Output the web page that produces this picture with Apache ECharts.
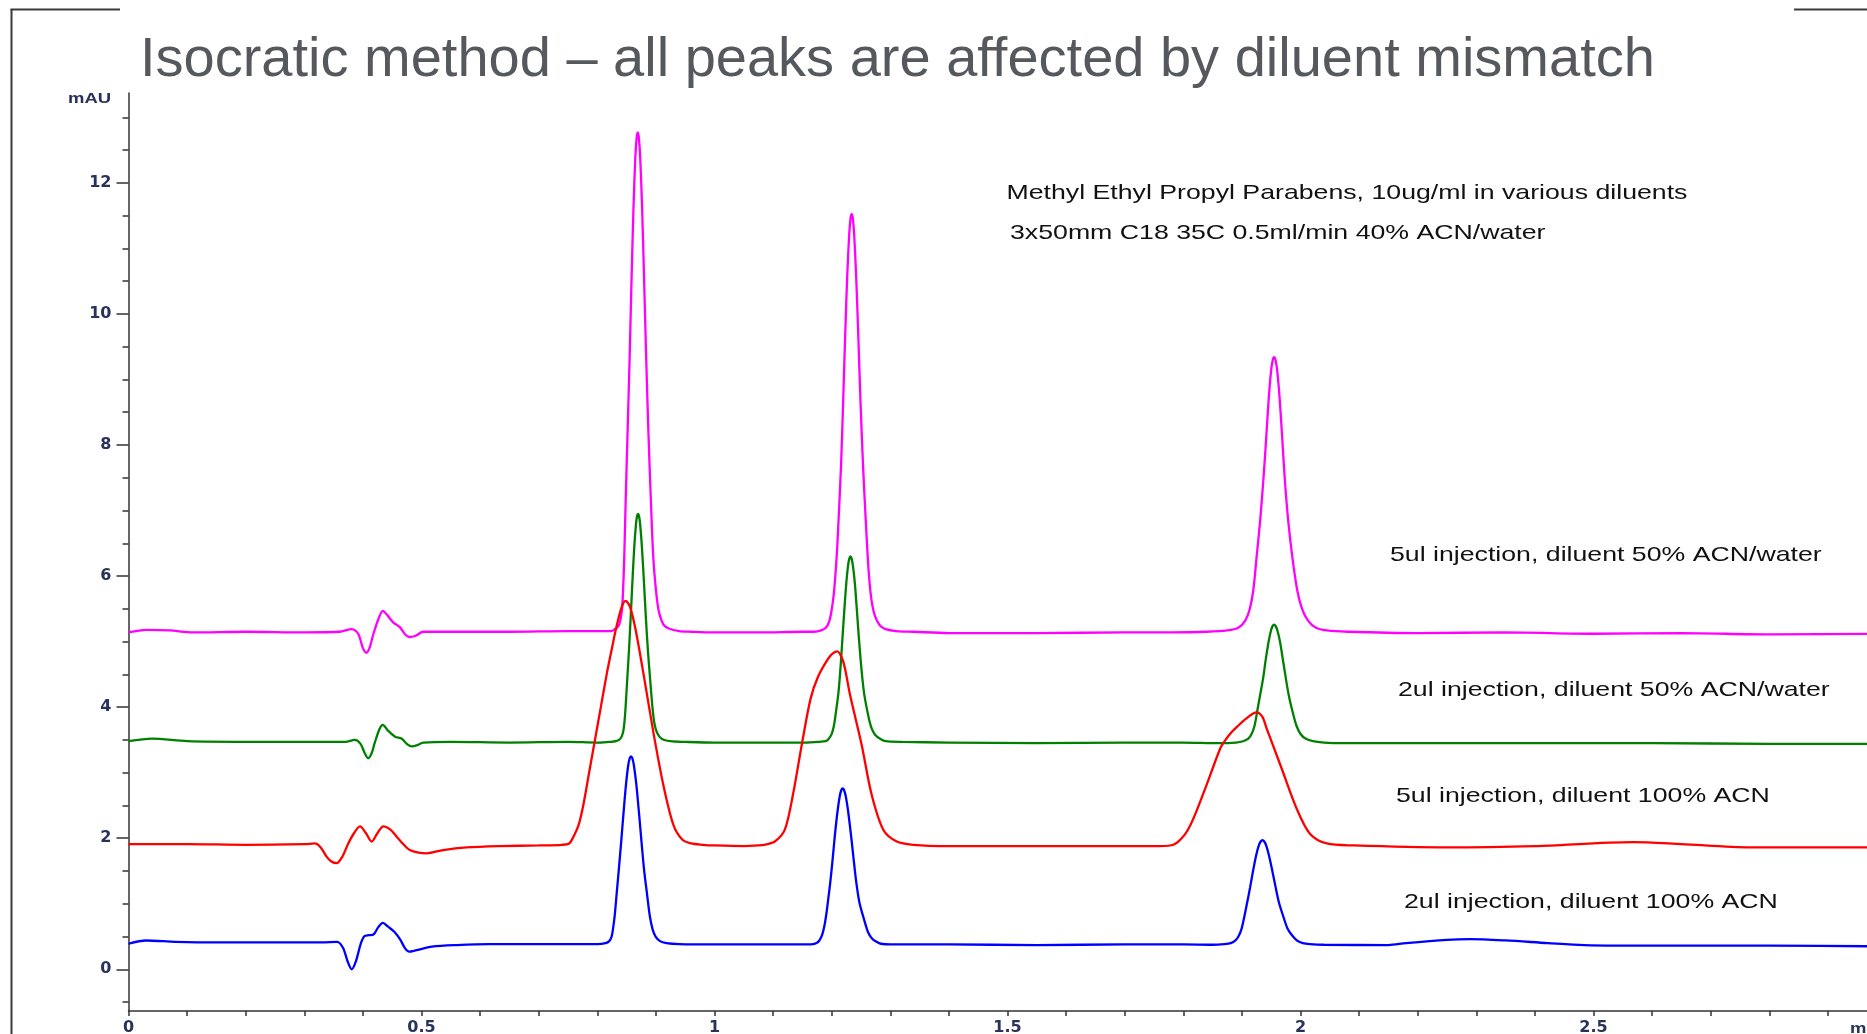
<!DOCTYPE html>
<html>
<head>
<meta charset="utf-8">
<title>Isocratic method – diluent mismatch</title>
<script src="https://cdn.jsdelivr.net/npm/echarts@6/dist/echarts.min.js"></script>
<style>
  html, body { margin: 0; padding: 0; background: #ffffff; }
  #chart { width: 1867px; height: 1034px; }
</style>
</head>
<body>
<div id="chart"></div>
<script>
// Chromatogram traces: [retention time (min), absorbance (mAU)]
const trace5ulWater = [
  [0,5.14],[0.03,5.18],[0.07,5.17],[0.11,5.14],[0.2,5.15],[0.3,5.14],[0.36,5.15],[0.381,5.19],[0.392,5.12],[0.4,4.9],[0.406,4.83],[0.412,4.92],[0.418,5.12],[0.428,5.38],[0.434,5.47],[0.442,5.40],[0.452,5.29],[0.463,5.22],[0.473,5.10],[0.480,5.07],[0.490,5.09],[0.503,5.15],[0.55,5.15],[0.65,5.15],[0.75,5.16],[0.81,5.16],
  [0.824,5.16],[0.832,5.20],[0.8374,5.26],[0.8417,5.45],[0.8439,5.76],[0.846,6.29],[0.8486,7.21],[0.8517,8.2],[0.8552,9.34],[0.8583,10.48],[0.8618,11.63],[0.8649,12.39],[0.8672,12.69],[0.869,12.77],[0.8709,12.69],[0.8732,12.39],[0.8764,11.63],[0.880,10.48],[0.8834,9.34],[0.8872,8.2],[0.8912,7.21],[0.8955,6.29],[0.9004,5.76],[0.9052,5.45],[0.9129,5.26],[0.922,5.20],[0.94,5.16],[0.96,5.15],
  [1.0,5.14],[1.08,5.14],[1.15,5.15],
  [1.17,5.15],[1.182,5.17],[1.19,5.21],[1.1955,5.30],[1.1995,5.46],[1.2035,5.72],[1.207,6.10],[1.2098,6.50],[1.2118,6.87],[1.216,7.70],[1.2195,8.65],[1.2228,9.61],[1.2264,10.56],[1.2298,11.2],[1.2322,11.46],[1.234,11.52],[1.236,11.46],[1.2384,11.2],[1.2418,10.56],[1.2456,9.61],[1.2492,8.65],[1.2534,7.70],[1.258,6.87],[1.2628,6.11],[1.2675,5.66],[1.2735,5.40],[1.282,5.25],[1.292,5.19],[1.31,5.16],[1.34,5.15],
  [1.4,5.13],[1.55,5.13],[1.7,5.14],[1.78,5.14],
  [1.84,5.15],[1.875,5.17],[1.8938,5.21],[1.9057,5.32],[1.9132,5.49],[1.9194,5.78],[1.925,6.28],[1.931,6.83],[1.9365,7.45],[1.9413,8.08],[1.9458,8.71],[1.9498,9.13],[1.9527,9.30],[1.955,9.34],[1.9573,9.30],[1.9603,9.13],[1.9644,8.71],[1.969,8.08],[1.9734,7.45],[1.9792,6.83],[1.9862,6.28],[1.9945,5.78],[2.003,5.49],[2.0128,5.32],[2.0264,5.21],[2.045,5.17],[2.08,5.15],
  [2.2,5.13],[2.35,5.14],[2.5,5.12],[2.65,5.13],[2.8,5.11],[3.0,5.12]
];

const trace2ulWater = [
  [0,3.48],[0.04,3.52],[0.1,3.48],[0.2,3.47],[0.3,3.47],[0.37,3.47],[0.386,3.50],[0.396,3.44],[0.403,3.30],[0.409,3.22],[0.415,3.30],[0.420,3.45],[0.428,3.66],[0.434,3.73],[0.443,3.64],[0.455,3.55],[0.466,3.52],[0.475,3.44],[0.483,3.40],[0.493,3.42],[0.503,3.46],[0.55,3.47],[0.65,3.46],[0.75,3.47],[0.80,3.46],
  [0.82,3.47],[0.832,3.48],[0.8394,3.52],[0.8438,3.61],[0.8461,3.75],[0.8482,3.99],[0.851,4.41],[0.854,4.86],[0.857,5.38],[0.8599,5.91],[0.863,6.43],[0.8659,6.78],[0.8678,6.915],[0.8695,6.95],[0.8712,6.915],[0.8732,6.78],[0.8762,6.43],[0.8796,5.91],[0.8828,5.38],[0.8864,4.86],[0.8903,4.41],[0.8942,3.99],[0.8975,3.75],[0.902,3.61],[0.9095,3.52],[0.925,3.48],[0.95,3.47],
  [1.0,3.46],[1.1,3.46],[1.15,3.46],
  [1.175,3.47],[1.19,3.48],[1.1943,3.51],[1.1995,3.58],[1.2034,3.70],[1.2067,3.89],[1.2116,4.23],[1.215,4.60],[1.2182,5.03],[1.2213,5.45],[1.2248,5.88],[1.2279,6.16],[1.2302,6.27],[1.232,6.30],[1.2339,6.27],[1.2362,6.16],[1.2396,5.88],[1.2432,5.45],[1.2466,5.03],[1.2506,4.60],[1.255,4.23],[1.2619,3.89],[1.2672,3.70],[1.274,3.58],[1.284,3.51],[1.292,3.48],[1.32,3.47],
  [1.4,3.46],[1.55,3.45],[1.7,3.46],[1.8,3.46],
  [1.86,3.45],[1.89,3.46],[1.902,3.48],[1.9109,3.52],[1.9165,3.59],[1.9217,3.72],[1.9262,3.94],[1.9308,4.17],[1.9364,4.45],[1.9406,4.72],[1.9454,4.99],[1.9496,5.17],[1.9526,5.24],[1.955,5.26],[1.9574,5.24],[1.9606,5.17],[1.9652,4.99],[1.970,4.72],[1.9748,4.45],[1.9802,4.17],[1.9862,3.94],[1.993,3.72],[2.0001,3.59],[2.0086,3.52],[2.0213,3.48],[2.04,3.46],[2.07,3.45],
  [2.2,3.45],[2.4,3.45],[2.6,3.45],[2.8,3.44],[3.0,3.44]
];

const trace5ulACN = [
  [0,1.91],[0.1,1.91],[0.2,1.90],[0.3,1.91],[0.318,1.92],[0.328,1.86],[0.338,1.72],[0.347,1.64],[0.355,1.62],[0.365,1.72],[0.375,1.92],[0.385,2.08],[0.395,2.18],[0.405,2.08],[0.415,1.95],[0.425,2.08],[0.435,2.18],[0.447,2.13],[0.458,2.02],[0.470,1.90],[0.480,1.82],[0.495,1.78],[0.509,1.77],[0.537,1.82],[0.577,1.86],[0.634,1.88],[0.7,1.89],[0.74,1.90],
  [0.752,1.92],[0.758,2.0],[0.768,2.2],[0.776,2.5],[0.786,3.0],[0.796,3.5],[0.806,4.0],[0.816,4.5],[0.825,4.9],[0.832,5.2],[0.839,5.45],[0.844,5.58],[0.8485,5.62],[0.853,5.58],[0.857,5.50],[0.865,5.2],[0.879,4.5],[0.896,3.6],[0.913,2.8],[0.930,2.2],[0.945,1.98],[0.96,1.92],[0.98,1.90],
  [1.0,1.89],[1.05,1.88],[1.075,1.89],
  [1.085,1.90],[1.103,1.95],[1.12,2.13],[1.134,2.67],[1.149,3.43],[1.164,4.13],[1.177,4.47],[1.194,4.74],[1.202,4.82],[1.2096,4.85],[1.217,4.76],[1.2227,4.59],[1.231,4.2],[1.251,3.43],[1.268,2.67],[1.288,2.13],[1.311,1.95],[1.339,1.90],
  [1.4,1.88],[1.5,1.88],[1.6,1.88],[1.7,1.88],[1.76,1.88],
  [1.783,1.90],[1.808,2.13],[1.837,2.75],[1.863,3.37],[1.872,3.50],[1.8826,3.62],[1.894,3.72],[1.905,3.81],[1.925,3.92],[1.935,3.85],[1.942,3.68],[1.968,3.06],[1.994,2.44],[2.016,2.07],[2.045,1.92],[2.09,1.89],
  [2.25,1.86],[2.4,1.88],[2.567,1.94],[2.65,1.91],[2.767,1.86],[3.0,1.86]
];

const trace2ulACN = [
  [0,0.39],[0.03,0.44],[0.08,0.42],[0.15,0.41],[0.25,0.41],[0.33,0.41],[0.356,0.42],[0.366,0.33],[0.374,0.12],[0.381,0.0],[0.388,0.12],[0.396,0.38],[0.402,0.50],[0.410,0.52],[0.418,0.53],[0.426,0.64],[0.434,0.71],[0.443,0.65],[0.454,0.57],[0.464,0.45],[0.472,0.32],[0.479,0.27],[0.49,0.29],[0.518,0.345],[0.56,0.37],[0.616,0.385],[0.7,0.385],[0.78,0.385],
  [0.80,0.385],[0.814,0.40],[0.8203,0.43],[0.8244,0.50],[0.8267,0.61],[0.8296,0.81],[0.8331,1.16],[0.8368,1.53],[0.8409,1.96],[0.8448,2.39],[0.849,2.82],[0.8527,3.11],[0.8553,3.22],[0.8575,3.25],[0.8598,3.22],[0.8625,3.11],[0.8666,2.82],[0.8711,2.39],[0.8753,1.96],[0.8797,1.53],[0.8847,1.16],[0.8897,0.81],[0.8944,0.61],[0.8995,0.50],[0.907,0.43],[0.918,0.40],[0.94,0.385],
  [1.0,0.38],[1.1,0.38],[1.15,0.38],
  [1.16,0.38],[1.168,0.385],[1.174,0.40],[1.179,0.44],[1.1835,0.52],[1.1875,0.66],[1.1908,0.84],[1.1942,1.08],[1.1976,1.33],[1.2017,1.69],[1.2055,2.05],[1.2098,2.40],[1.2137,2.64],[1.2165,2.736],[1.2187,2.76],[1.221,2.736],[1.224,2.64],[1.2282,2.40],[1.2329,2.05],[1.2373,1.69],[1.2419,1.33],[1.2473,1.02],[1.2559,0.74],[1.2619,0.57],[1.2684,0.475],[1.2772,0.416],[1.284,0.39],[1.30,0.38],
  [1.4,0.38],[1.55,0.37],[1.7,0.38],[1.8,0.38],
  [1.85,0.375],[1.87,0.385],[1.881,0.40],[1.889,0.44],[1.8945,0.507],[1.8995,0.62],[1.9043,0.81],[1.909,1.02],[1.914,1.25],[1.9188,1.49],[1.9241,1.73],[1.9289,1.89],[1.9324,1.954],[1.935,1.97],[1.9378,1.954],[1.9414,1.89],[1.9464,1.73],[1.9522,1.49],[1.9576,1.25],[1.9632,1.02],[1.9705,0.81],[1.978,0.62],[1.9865,0.507],[1.994,0.44],[2.004,0.40],[2.016,0.385],[2.04,0.375],
  [2.15,0.37],[2.18,0.40],[2.25,0.45],[2.289,0.46],[2.35,0.44],[2.422,0.40],[2.484,0.37],[2.6,0.36],[2.8,0.36],[3.0,0.35]
];

const seriesNames = [
  '5ul injection, diluent 50% ACN/water',
  '2ul injection, diluent 50% ACN/water',
  '5ul injection, diluent 100% ACN',
  '2ul injection, diluent 100% ACN'
];
const seriesData = [trace5ulWater, trace2ulWater, trace5ulACN, trace2ulACN];
const seriesColors = ['#ff00ff', '#008000', '#ff0000', '#0000ff'];

// Axis ticks (mAU): labelled majors and unlabelled half-unit minors
const yMajorTicks = [0, 2, 4, 6, 8, 10, 12];
const yMinorTicks = [-0.5, 0.5, 1, 1.5, 2.5, 3, 3.5, 4.5, 5, 5.5, 6.5, 7, 7.5, 8.5, 9, 9.5, 10.5, 11, 11.5, 12.5, 13];

const titleText = 'Isocratic method \u2013 all peaks are affected by diluent mismatch';
const headerLines = [
  'Methyl Ethyl Propyl Parabens, 10ug/ml in various diluents',
  '3x50mm C18 35C 0.5ml/min 40% ACN/water'
];

const chart = echarts.init(document.getElementById('chart'), null, { renderer: 'canvas' });

const axisColor = '#333333';
const labelColor = '#28325a';
const textFont = '"Liberation Sans", Arial, Helvetica, sans-serif';
const tickFont = { fontFamily: '"DejaVu Sans", sans-serif', fontSize: 16, fontWeight: 'bold', color: labelColor };

// Trace captions: left edge and vertical centre
const captionPos = [[1390, 555], [1398, 690], [1396, 796], [1404, 902]];

function stretchedText(str, x, y, font, sx, fill) {
  return {
    type: 'text', x: x, y: y, scaleX: sx, silent: true,
    style: { text: str, font: font, fill: fill, align: 'left', verticalAlign: 'middle' }
  };
}

const noteFont = '21px ' + textFont;
const unitFont = 'bold 15px ' + textFont;

const graphics = [
  // slide frame
  { type: 'line', silent: true, shape: { x1: 11.5, y1: 9, x2: 11.5, y2: 1034 }, style: { stroke: '#3a3a3a', lineWidth: 2 } },
  { type: 'line', silent: true, shape: { x1: 10.5, y1: 9.5, x2: 120, y2: 9.5 }, style: { stroke: '#3a3a3a', lineWidth: 2 } },
  { type: 'line', silent: true, shape: { x1: 1794, y1: 9.5, x2: 1867, y2: 9.5 }, style: { stroke: '#3a3a3a', lineWidth: 2 } },
  // title
  { type: 'text', x: 140, y: 60.5, silent: true,
    style: { text: titleText, font: '56px ' + textFont, fill: '#55595e', align: 'left', verticalAlign: 'middle' } },
  // method notes
  stretchedText(headerLines[0], 1006.5, 193, noteFont, 1.271, '#111111'),
  stretchedText(headerLines[1], 1010, 233, noteFont, 1.271, '#111111'),
  // axis units
  stretchedText('mAU', 68, 98.5, unitFont, 1.23, labelColor),
  stretchedText('min', 1850, 1029, unitFont, 1.23, labelColor)
];
seriesNames.forEach(function (name, i) {
  graphics.push(stretchedText(name, captionPos[i][0], captionPos[i][1], noteFont, 1.271, '#111111'));
});

const option = {
  animation: false,
  backgroundColor: '#ffffff',
  grid: { left: 128.5, top: 93, width: 1758, height: 918, containLabel: false, outerBoundsMode: 'none' },
  xAxis: {
    type: 'value', min: 0, max: 3, interval: 0.5,
    axisLine: { show: true, onZero: false, lineStyle: { color: axisColor, width: 1.5 } },
    axisTick: { show: true, length: 5, lineStyle: { color: axisColor, width: 1.5 } },
    minorTick: { show: true, splitNumber: 5, length: 5, lineStyle: { color: axisColor, width: 1.5 } },
    axisLabel: { margin: 9, formatter: '{t|{value}}', rich: { t: tickFont } },
    splitLine: { show: false },
    minorSplitLine: { show: false }
  },
  yAxis: [
    {
      type: 'value', min: -0.636, max: 13.37, position: 'left', offset: 0,
      axisLine: { show: true, onZero: false, lineStyle: { color: axisColor, width: 1.5 } },
      axisTick: { show: true, length: 12, customValues: yMajorTicks, lineStyle: { color: axisColor, width: 1.5 } },
      axisLabel: { show: true, margin: 17, customValues: yMajorTicks, formatter: '{t|{value}}', rich: { t: tickFont } },
      splitLine: { show: false }
    },
    {
      type: 'value', min: -0.636, max: 13.37, position: 'left', offset: 0,
      axisLine: { show: false, onZero: false },
      axisTick: { show: true, length: 6, customValues: yMinorTicks, lineStyle: { color: axisColor, width: 1.5 } },
      axisLabel: { show: false },
      splitLine: { show: false }
    }
  ],
  series: seriesData.map(function (data, i) {
    return {
      name: seriesNames[i],
      type: 'line',
      xAxisIndex: 0,
      yAxisIndex: 0,
      data: data,
      showSymbol: false,
      symbol: 'none',
      smooth: 0.3,
      silent: true,
      lineStyle: { color: seriesColors[i], width: 2.3 }
    };
  }),
  graphic: graphics
};

chart.setOption(option);
</script>
</body>
</html>
